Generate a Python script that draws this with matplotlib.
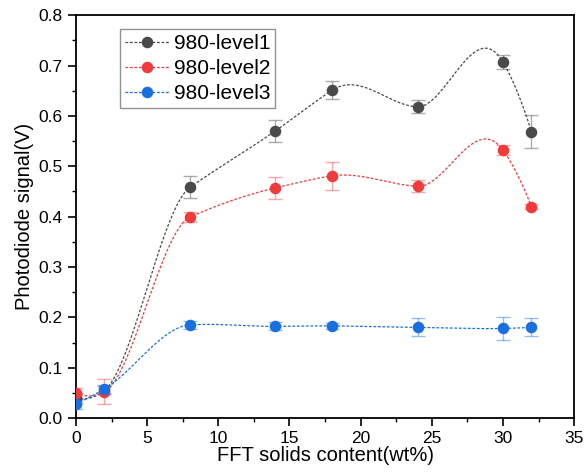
import numpy as np
import matplotlib
matplotlib.use("Agg")
import matplotlib.pyplot as plt
from matplotlib.ticker import MultipleLocator, FormatStrFormatter

plt.rcParams['font.family'] = ['Liberation Sans', 'DejaVu Sans']

solids = [0, 2, 8, 14, 18, 24, 30, 32]

level1 = [0.040, 0.055, 0.458, 0.570, 0.651, 0.618, 0.707, 0.569]
level1_err = [0.010, 0.008, 0.022, 0.022, 0.018, 0.013, 0.013, 0.033]

level2 = [0.050, 0.052, 0.399, 0.457, 0.481, 0.460, 0.532, 0.420]
level2_err = [0.010, 0.025, 0.010, 0.022, 0.028, 0.012, 0.010, 0.005]

level3 = [0.028, 0.058, 0.185, 0.182, 0.183, 0.180, 0.178, 0.180]
level3_err = [0.010, 0.008, 0.008, 0.008, 0.006, 0.018, 0.023, 0.018]

labels = ["980-level1", "980-level2", "980-level3"]
colors = ["#4a4a4a", "#f03a3c", "#1a6fdf"]


def spline_tangents(x, y):
    """Akima weighted slopes at interior nodes; three-point parabola
    derivatives at the two nodes nearest each end."""
    m = np.diff(y) / np.diff(x)
    h = np.diff(x)
    n = len(x)
    t = np.zeros(n)
    for i in range(2, n - 2):
        w1 = abs(m[i + 1] - m[i])
        w2 = abs(m[i - 1] - m[i - 2])
        if w1 + w2 == 0:
            t[i] = 0.5 * (m[i - 1] + m[i])
        else:
            t[i] = (w1 * m[i - 1] + w2 * m[i]) / (w1 + w2)
    # start: parabola through the first three points
    t[1] = (h[1] * m[0] + h[0] * m[1]) / (h[0] + h[1])
    t[0] = m[0] - (m[1] - m[0]) * h[0] / (h[0] + h[1])
    # end: parabola through the last three points
    t[-2] = (h[-1] * m[-2] + h[-2] * m[-1]) / (h[-2] + h[-1])
    t[-1] = m[-1] + (m[-1] - m[-2]) * h[-1] / (h[-2] + h[-1])
    return t


def smooth_curve(x, y, per_seg=80):
    x = np.asarray(x, float)
    y = np.asarray(y, float)
    t = spline_tangents(x, y)
    xs, ys = [], []
    for i in range(len(x) - 1):
        h = x[i + 1] - x[i]
        s = np.linspace(0, 1, per_seg)
        h00 = 2 * s**3 - 3 * s**2 + 1
        h10 = s**3 - 2 * s**2 + s
        h01 = -2 * s**3 + 3 * s**2
        h11 = s**3 - s**2
        xs.append(x[i] + s * h)
        ys.append(h00 * y[i] + h10 * h * t[i] + h01 * y[i + 1] + h11 * h * t[i + 1])
    return np.concatenate(xs), np.concatenate(ys)


fig = plt.figure(figsize=(5.87, 4.74), dpi=100)
ax = fig.add_axes([0.1295, 0.118, 0.8485, 0.85])

dash = (0, (2.2, 1.4))
for vals, errs, lab, col in zip([level1, level2, level3],
                                [level1_err, level2_err, level3_err],
                                labels, colors):
    cx, cy = smooth_curve(solids, vals)
    ax.plot(cx, cy, ls=dash, lw=0.9, color=col, zorder=2)
    ax.errorbar(solids, vals, yerr=errs, fmt='none', ecolor=col, alpha=0.45,
                elinewidth=1.0, capsize=5, capthick=1.0, zorder=3)
    ax.plot(solids, vals, 'o', ms=7.3, color=col, zorder=4)
    ax.plot([], [], ls=dash, lw=0.9, color=col, marker='o', ms=7.3, label=lab)

ax.set_xlim(0, 35)
ax.set_ylim(0, 0.8)
ax.xaxis.set_major_locator(MultipleLocator(5))
ax.xaxis.set_minor_locator(MultipleLocator(2.5))
ax.yaxis.set_major_locator(MultipleLocator(0.1))
ax.yaxis.set_minor_locator(MultipleLocator(0.05))
ax.yaxis.set_major_formatter(FormatStrFormatter('%.1f'))
ax.tick_params(which='major', direction='out', length=6, width=1.2,
               labelsize=12.5, colors='black')
ax.tick_params(which='minor', direction='out', length=3, width=1.0)
for s in ax.spines.values():
    s.set_linewidth(1.3)

ax.set_xlabel("FFT solids content(wt%)", fontsize=14.5, labelpad=0)
ax.set_ylabel("Photodiode signal(V)", fontsize=14.5, labelpad=3)

leg = ax.legend(loc='upper left', bbox_to_anchor=(0.089, 0.965),
                fontsize=15, frameon=True, fancybox=False, edgecolor='#777777',
                handlelength=2.1, handletextpad=0.25, borderpad=0.22,
                labelspacing=0.3, borderaxespad=0)
leg.get_frame().set_linewidth(1.0)

fig.savefig("out.png", dpi=100)
